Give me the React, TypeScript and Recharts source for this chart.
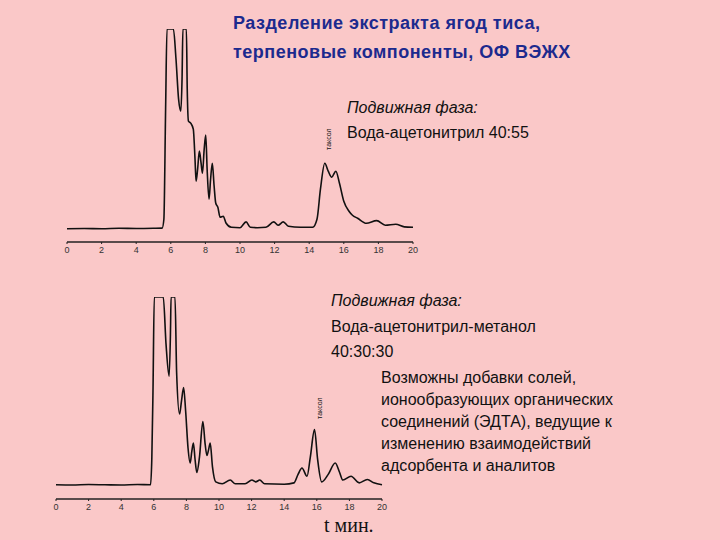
import React from 'react';
import { LineChart, Line, XAxis, YAxis } from 'recharts';

// retention time, min / detector signal (relative, 100 = off scale)
const topTimes = [0, 1, 2, 3, 4, 5, 5.5, 5.6, 5.7, 5.78, 6.15, 6.3, 6.45, 6.58, 6.65, 6.7, 6.9, 6.95, 7.02, 7.15, 7.3, 7.4, 7.46, 7.55, 7.65, 7.75, 7.83, 7.93, 8.02, 8.1, 8.21, 8.3, 8.4, 8.5, 8.6, 8.72, 8.85, 9.03, 9.2, 9.5, 10, 10.35, 10.6, 11, 11.5, 11.95, 12.2, 12.5, 12.8, 13.5, 14.2, 14.45, 14.65, 14.9, 15.1, 15.3, 15.54, 15.75, 16, 16.3, 16.5, 16.8, 17.3, 17.9, 18.4, 19, 19.5, 20];
const topSignal = [0.3, 0.4, 0.3, 0.5, 0.4, 0.5, 0.6, 5, 60, 100, 100, 85, 65, 59, 75, 100, 100, 70, 54, 53, 50, 35, 24, 30, 39, 33, 28, 40, 47, 30, 15, 25, 33, 22, 13, 11, 6, 6.5, 3, 1, 0.8, 3.7, 1, 0.8, 1, 3.7, 2, 3.7, 1.5, 1, 1, 5, 20, 33, 29, 26, 29, 23, 14, 9, 7, 5.5, 3, 4.3, 2, 2.5, 1.2, 1];

const bottomTimes = [0, 1, 2, 3, 4, 5, 5.8, 5.88, 5.95, 6.03, 6.58, 6.75, 6.94, 7.02, 7.06, 7.3, 7.4, 7.58, 7.7, 7.83, 7.95, 8.1, 8.23, 8.33, 8.43, 8.53, 8.64, 8.8, 9.01, 9.15, 9.26, 9.36, 9.46, 9.6, 9.8, 10.2, 10.69, 11, 11.6, 12.02, 12.25, 12.5, 12.8, 14, 14.6, 14.85, 15.09, 15.4, 15.6, 15.86, 16.05, 16.3, 16.7, 17.13, 17.4, 17.6, 18.1, 18.6, 19.1, 19.5, 20];
const bottomSignal = [0.5, 0.4, 0.6, 0.5, 0.4, 0.6, 0.5, 15, 50, 100, 100, 75, 58, 80, 100, 100, 60, 38, 45, 52, 40, 20, 12, 18, 22.6, 14, 7, 15, 34, 22, 16, 19, 22.6, 10, 2, 1, 3, 1, 1, 3, 2, 3, 1, 0.8, 1.5, 6, 9.4, 5, 15, 29.7, 14, 2, 6, 12, 7, 3, 5, 1.5, 3.3, 1.5, 0.5];

const xTicks = [0, 2, 4, 6, 8, 10, 12, 14, 16, 18, 20];

const topData = topTimes.map((t, i) => ({ t, v: topSignal[i] }));
const bottomData = bottomTimes.map((t, i) => ({ t, v: bottomSignal[i] }));

const sans = '"Liberation Sans", Arial, sans-serif';

const Chromatogram = ({ data, width, height, margin, yMin }: any) => (
  <LineChart width={width} height={height} data={data} margin={margin}>
    <XAxis
      dataKey="t"
      type="number"
      domain={[0, 20]}
      ticks={xTicks}
      height={20}
      tickSize={2}
      tickMargin={3}
      axisLine={{ stroke: '#222', strokeWidth: 1.5 }}
      tickLine={{ stroke: '#222' }}
      tick={{ fill: '#333', fontSize: 9, fontFamily: sans }}
    />
    <YAxis hide domain={[yMin, 100]} allowDataOverflow />
    <Line dataKey="v" type="monotone" stroke="#111" strokeWidth={1.6} dot={false} isAnimationActive={false} />
  </LineChart>
);

const txt = (x: number, y: number, extra: any = {}) => ({
  position: 'absolute' as const,
  left: x,
  top: y,
  fontFamily: sans,
  fontSize: 16,
  color: '#111',
  whiteSpace: 'nowrap' as const,
  lineHeight: '25px',
  ...extra,
});

const title = { fontSize: 18, fontWeight: 'bold', color: '#1c2a8e', lineHeight: '24px', letterSpacing: 0.5 };
const vertical = { fontSize: 7, lineHeight: '7px', transform: 'rotate(-90deg)', transformOrigin: 'left top' };

const App = () => (
  <div style={{ position: 'fixed', left: 0, top: 0, width: 720, height: 540, background: '#fac8c8', overflow: 'hidden' }}>
    <div style={{ position: 'absolute', left: 0, top: 0 }}>
      <Chromatogram data={topData} width={430} height={270} margin={{ top: 29, right: 17, bottom: 8, left: 67 }} yMin={-6.35} />
    </div>
    <div style={{ position: 'absolute', left: 0, top: 280 }}>
      <Chromatogram data={bottomData} width={400} height={260} margin={{ top: 17, right: 18, bottom: 21, left: 56 }} yMin={-7.05} />
    </div>

    <div style={txt(233, 11, title)}>Разделение экстракта ягод тиса,</div>
    <div style={txt(233, 40, title)}>терпеновые компоненты, ОФ ВЭЖХ</div>

    <div style={txt(347, 95)}>
      <i>Подвижная фаза:</i><br />Вода-ацетонитрил 40:55
    </div>

    <div style={txt(331, 288, { lineHeight: '25.5px' })}>
      <i>Подвижная фаза:</i><br />Вода-ацетонитрил-метанол<br />40:30:30
    </div>

    <div style={txt(381, 367, { lineHeight: '22px' })}>
      Возможны добавки солей,<br />ионообразующих органических<br />соединений (ЭДТА), ведущие к<br />изменению взаимодействий<br />адсорбента и аналитов
    </div>

    <div style={txt(324, 513, { fontFamily: '"Liberation Serif", "Times New Roman", serif', fontSize: 20 })}>t мин.</div>

    <div style={txt(325, 150, vertical)}>таксол</div>
    <div style={txt(316, 419, vertical)}>таксол</div>
  </div>
);

export default App;
